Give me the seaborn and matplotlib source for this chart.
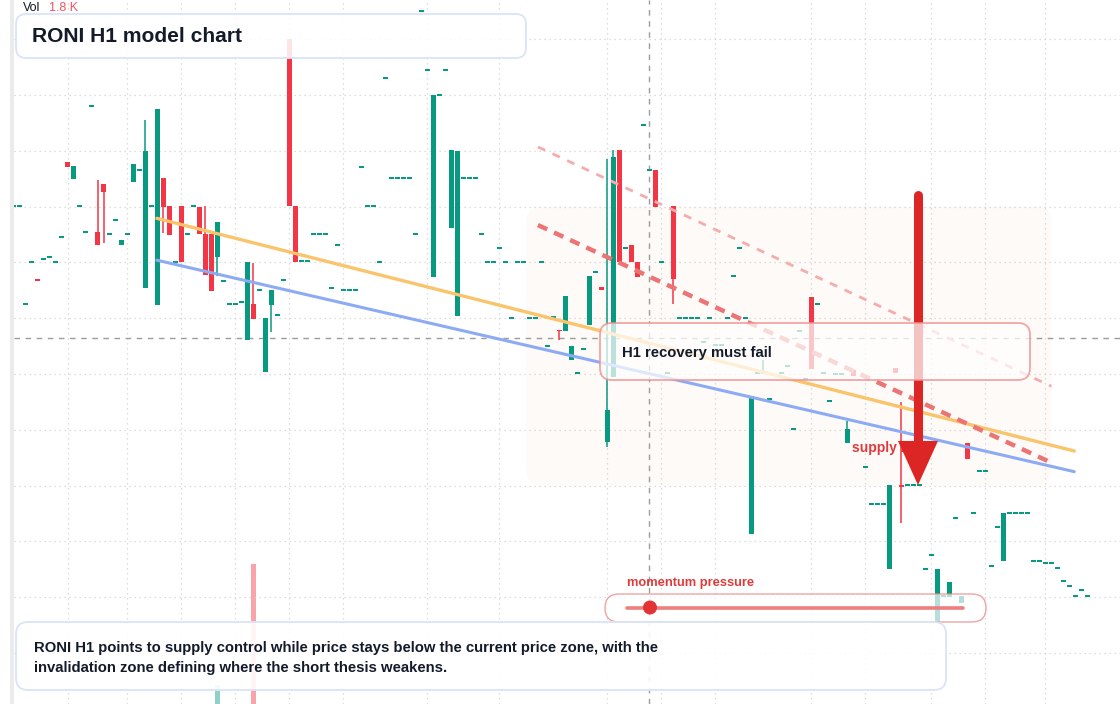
import numpy as np
import seaborn as sns
import matplotlib
matplotlib.use("Agg")
import matplotlib.pyplot as plt
from matplotlib.patches import FancyBboxPatch, Rectangle, Circle, Polygon
from matplotlib.lines import Line2D
from matplotlib.colors import to_rgba

nan = np.nan

# RONI H1 candles, price in grid steps (1 step = one dotted line), x = bar number
opens = [
    8.01, 8.01, 6.25, 7.01, 6.69, 7.06, 7.10, 7.01, 7.46, 8.80,
    8.49, 8.01, 7.54, 9.80, 7.54, 8.41, 7.51, 7.76, 7.31, 7.51,
    8.44, 8.66, 6.54, 8.01, 6.24, 8.51, 8.01, 7.01, 8.01, 7.51,
    8.01, 7.99, 7.51, 7.51, 7.10, 6.67, 6.25, 6.25, 6.29, 5.61,
    6.25, 6.51, 5.04, 6.24, 6.06, 6.68, 11.00, 8.01, 7.03, 7.03,
    7.51, 7.51, 7.51, 6.54, 7.31, 6.51, 6.51, 6.51, 8.71, 8.01,
    8.01, 7.01, 10.30, 8.51, 8.51, 8.51, 8.51, 7.51, 11.51, 10.45,
    6.74, 10.00, 10.45, 7.62, 6.04, 8.51, 8.51, 8.51, 7.51, 7.01,
    7.01, 7.26, 7.01, 6.00, 7.01, 7.01, 6.00, 6.00, 7.01, 5.50,
    6.02, 5.79, 5.77, 5.25, 5.02, 5.45, 5.88, 6.83, 6.56, 3.78,
    4.95, 9.01, 7.26, 7.31, 7.01, 9.46, 8.66, 8.66, 7.01, 5.02,
    8.01, 6.00, 6.00, 6.00, 6.00, 5.57, 6.00, 5.52, 5.52, 6.00,
    6.76, 7.26, 6.00, 2.13, 5.02, 5.02, 4.55, nan, 5.02, 5.14,
    4.01, 5.77, 4.91, 6.38, 6.25, 5.02, 4.52, 5.00, 5.00, 3.76,
    5.07, nan, 3.33, 2.67, 2.67, 2.67, 1.51, 5.11, 3.01, 3.01,
    3.01, 3.01, 1.51, 1.76, 0.54, 1.02, 1.00, 2.42, 0.90, 3.76,
    2.51, 3.26, 3.26, 1.56, 2.26, 1.65, 2.51, 2.51, 2.51, 2.51,
    1.65, 1.65, 1.61, 1.61, 1.52, 1.29, 1.20, 1.02, 1.13, 1.02,
]
closes = [
    8.01, 8.01, 6.25, 7.01, 6.68, 7.06, 7.10, 7.01, 7.46, 8.71,
    8.73, 8.01, 7.54, 9.80, 7.31, 8.26, 7.51, 7.76, 7.40, 7.51,
    8.76, 8.66, 9.00, 8.01, 9.75, 7.99, 7.49, 7.01, 7.01, 7.51,
    8.01, 7.51, 6.77, 6.49, 7.72, 6.67, 6.25, 6.25, 6.29, 7.01,
    5.99, 6.51, 6.00, 6.51, 6.06, 6.68, 8.01, 7.01, 7.03, 7.03,
    7.51, 7.51, 7.51, 6.54, 7.31, 6.51, 6.51, 6.51, 8.71, 8.01,
    8.01, 7.01, 10.30, 8.51, 8.51, 8.51, 8.51, 7.51, 11.51, 10.45,
    10.00, 10.00, 10.45, 9.01, 9.00, 8.51, 8.51, 8.51, 7.51, 7.01,
    7.01, 7.26, 7.01, 6.00, 7.01, 7.01, 6.00, 6.00, 7.01, 5.50,
    6.02, 5.77, 6.40, 5.50, 5.02, 5.45, 6.76, 6.83, 6.51, 4.35,
    8.89, 7.01, 7.26, 7.01, 6.74, 9.46, 8.66, 7.99, 7.01, 5.02,
    6.70, 6.00, 6.00, 6.00, 6.00, 5.57, 6.00, 5.52, 5.52, 6.00,
    6.76, 7.26, 6.00, 4.61, 5.02, 5.02, 4.55, nan, 5.02, 5.14,
    4.01, 5.77, 4.91, 5.09, 6.25, 5.02, 4.52, 5.00, 5.00, 4.01,
    4.97, nan, 3.33, 2.67, 2.67, 2.67, 3.01, 5.02, 2.99, 3.01,
    3.01, 3.01, 1.51, 1.76, 1.51, 1.02, 1.27, 2.42, 1.02, 3.48,
    2.51, 3.26, 3.26, 1.56, 2.26, 2.51, 2.51, 2.51, 2.51, 2.51,
    1.65, 1.65, 1.61, 1.61, 1.52, 1.29, 1.20, 1.02, 1.13, 1.02,
]

# only these bars have visible wicks
wick_idx = [14, 15, 22, 25, 32, 34, 40, 43, 91, 99, 100, 110, 125, 139, 148]
wick_high = [8.48, 8.41, 9.55, 8.51, 8.01, 7.72, 6.99, 6.51, 5.79, 8.85, 9.01, 8.01, 5.25, 4.16, 4.50]
wick_low = [7.31, 7.35, 6.54, 7.53, 6.77, 6.76, 5.99, 5.75, 5.61, 3.69, 4.95, 6.25, 5.02, 3.76, 2.33]

# volume (K) of the bars that show a volume column
vol_idx = [34, 40]
vol_k = [0.24, 1.8]

# time grid (bar numbers of the vertical dotted lines)
grid_idx = [9, 19, 28, 37, 46, 55, 69, 81, 99, 108, 117, 133, 142, 153, 162, 172]

# trend lines: (bar, price) start / end
resist_line = ([23.9, 176.8], [7.79, 3.62])
support_line = ([23.9, 176.8], [7.04, 3.25])
channel_mid = ([87.4, 173.0], [7.67, 3.41])
channel_top = ([87.4, 173.0], [9.07, 4.78])

zone_bars = (85.5, 173.0)
zone_price = (3.0, 8.0)
cross_bar, cross_price = 106, 5.645
arrow_bar, arrow_top, arrow_tip = 150.75, 8.21, 3.01

GREEN = "#089981"
RED = "#f23645"
INK = "#131a2a"

sns.set_theme(style="white")
plt.rcParams["font.family"] = ["Liberation Sans", "DejaVu Sans"]

W, H = 1120, 704
fig = plt.figure(figsize=(W / 100, H / 100), dpi=100)
ax = fig.add_axes([14 / W, 0, 1 - 14 / W, 1])
ax_vol = ax.twinx()
ax.set_zorder(2)
ax.patch.set_visible(False)
ax_vol.set_zorder(1)

ax.set_xlim(0.083, 184.42)
ax.set_ylim(-0.914, 11.703)
ax.set_xticks(grid_idx)
ax.set_yticks(range(0, 12))
ax.tick_params(length=0, labelbottom=False, labelleft=False)
ax.grid(True, color="#d2d2d2", linestyle=(0, (1, 3)), linewidth=0.9)
for s in ax.spines.values():
    s.set_visible(False)

# volume
ax_vol.set_ylim(0, 9.05)
ax_vol.bar(vol_idx, vol_k, width=0.82,
           color=[to_rgba(GREEN, 0.45), to_rgba(RED, 0.45)], linewidth=0)
ax_vol.axis("off")

# invalidation zone
zone = FancyBboxPatch((zone_bars[0], zone_price[0]), zone_bars[1] - zone_bars[0],
                      zone_price[1] - zone_price[0],
                      boxstyle="round,pad=0,rounding_size=2.5", mutation_aspect=6 / 55.8,
                      fc="#fbefe3", ec="none", alpha=0.25, zorder=0.5)
ax.add_patch(zone)

# crosshair
ax.axvline(cross_bar, color="#9c9c9c", lw=1, linestyle=(0, (4, 4)), zorder=1)
ax.axhline(cross_price, color="#9c9c9c", lw=1, linestyle=(0, (4, 4)), zorder=1)

# candles
o = np.array(opens)
c = np.array(closes)
x = np.arange(len(o))
ok = ~np.isnan(o)
up = c >= o
lo = np.minimum(o, c)
hgt = np.abs(c - o)
flat = hgt < 0.03
lo = np.where(flat, (o + c) / 2 - 0.016, lo)
hgt = np.where(flat, 0.032, hgt)
cols = np.where(up, GREEN, RED)
ax.bar(x[ok], hgt[ok], bottom=lo[ok], width=0.82, color=cols[ok], linewidth=0, zorder=3)
wick_cols = [GREEN if c[i] >= o[i] else RED for i in wick_idx]
ax.vlines(wick_idx, wick_low, wick_high, colors=wick_cols, linewidth=1.1, zorder=2.9)

# trend lines
sns.lineplot(x=resist_line[0], y=resist_line[1], ax=ax, color="#f9c46c", linewidth=2.4, zorder=4)
sns.lineplot(x=support_line[0], y=support_line[1], ax=ax, color="#8dabf4", linewidth=2.2, zorder=4)
sns.lineplot(x=channel_mid[0], y=channel_mid[1], ax=ax, color="#ec7474", linewidth=3.2,
             linestyle=(0, (2.3, 1.7)), zorder=4)
sns.lineplot(x=channel_top[0], y=channel_top[1], ax=ax, color="#f5acac", linewidth=2.0,
             linestyle=(0, (2.9, 2.9)), zorder=4)

ax.text(139.7, 3.67, "supply zone", color="#e03a3a", fontsize=10, fontweight="bold",
        va="center", ha="left", zorder=5)

# down arrow
head_len, head_half = 0.79, 3.33
ax.plot([arrow_bar, arrow_bar], [arrow_top, arrow_tip + head_len * 0.6], color="#dc2626",
        lw=6.5, solid_capstyle="round", zorder=6)
ax.add_patch(Polygon([[arrow_bar - head_half, arrow_tip + head_len],
                      [arrow_bar + head_half, arrow_tip + head_len],
                      [arrow_bar, arrow_tip]], closed=True, fc="#dc2626", ec="none", zorder=6))


def px_box(x0, y0, x1, y1, r, ec, lw, fa, z=3):
    p = FancyBboxPatch((x0 / 100, (H - y1) / 100), (x1 - x0) / 100, (y1 - y0) / 100,
                       boxstyle=f"round,pad=0,rounding_size={r / 100}",
                       transform=fig.dpi_scale_trans, fc=to_rgba("white", fa),
                       ec=ec, lw=lw, zorder=z)
    fig.add_artist(p)


def px_text(x0, y0, s, **kw):
    fig.text(x0 / W, 1 - y0 / H, s, va="center", ha="left", zorder=6, **kw)


# left price-scale edge
fig.add_artist(Rectangle((0.10, 0), 0.04, H / 100, transform=fig.dpi_scale_trans,
                         fc="#ebebeb", ec="none", zorder=1))

px_box(600, 323, 1030, 380, 12, to_rgba("#ef8f8f", 0.8), 1.3, 0.72)
px_text(622, 353, "H1 recovery must fail", fontsize=10.7, fontweight="bold", color=INK)

px_box(605, 594, 986, 622, 14, to_rgba("#ec8c8c", 0.8), 1.0, 0.7)
fig.add_artist(Line2D([627 / 100, 963 / 100], [(H - 607.5) / 100] * 2,
                      transform=fig.dpi_scale_trans, color="#ec7f7f", lw=2.6, zorder=4))
fig.add_artist(Circle((650 / 100, (H - 607.5) / 100), 0.07, transform=fig.dpi_scale_trans,
                      fc="#e23434", ec="none", zorder=5))
px_text(627, 583, "momentum pressure", fontsize=9.3, fontweight="bold", color="#e03a3a")

px_box(16, 14, 526, 58, 10, "#d9e4f8", 1.3, 0.88)
px_text(32, 36, "RONI H1 model chart", fontsize=15.1, fontweight="bold", color=INK)

px_box(16, 622, 946, 690, 12, "#d9e4f8", 1.3, 0.9)
px_text(34, 648, "RONI H1 points to supply control while price stays below the current price zone, with the",
        fontsize=10.7, fontweight="bold", color=INK)
px_text(34, 668, "invalidation zone defining where the short thesis weakens.",
        fontsize=10.7, fontweight="bold", color=INK)

px_text(23, 8, "Vol", fontsize=9, color="#131722")
px_text(49, 8, "1.8 K", fontsize=9, color="#f7525f")

fig.savefig("out.png", dpi=100)
